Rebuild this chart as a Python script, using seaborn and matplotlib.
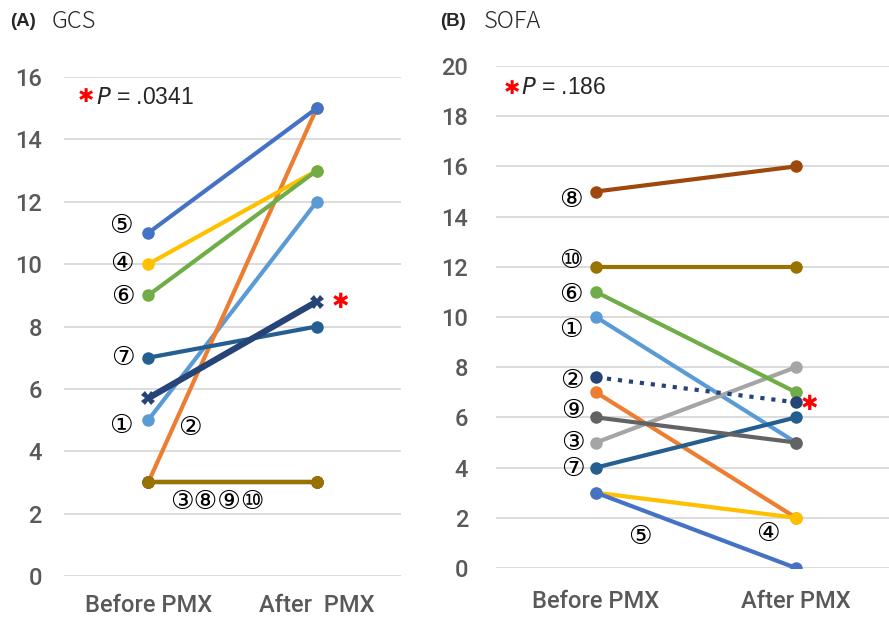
import matplotlib
matplotlib.use("Agg")
import matplotlib.pyplot as plt
import numpy as np
import pandas as pd
import seaborn as sns

sns.set_theme(style="white")
plt.rcParams['font.family'] = ['Liberation Sans', 'DejaVu Sans']

# categories
times = ["Before PMX", "After PMX"]
time_labels_a = ["Before PMX", "After  PMX"]
patients = ["①", "②", "③", "④", "⑤", "⑥", "⑦", "⑧", "⑨", "⑩"]
colors = ["#5B9BD5", "#ED7D31", "#A5A5A5", "#FFC000", "#4472C4",
          "#70AD47", "#255E91", "#9E480E", "#636363", "#997300"]
mean_color = "#264478"

# GCS values (before, after) per patient
gcs_before = [5, 3, 3, 10, 11, 9, 7, 3, 3, 3]
gcs_after = [12, 15, 3, 13, 15, 13, 8, 3, 3, 3]
gcs_mean = [5.7, 8.8]

# SOFA values
sofa_before = [10, 7, 5, 3, 3, 11, 4, 15, 6, 12]
sofa_after = [5, 2, 8, 2, 0, 7, 6, 16, 5, 12]
sofa_mean = [7.6, 6.6]

CIRC = ['DejaVu Sans']


def long_df(before, after):
    rows = []
    for p, b, a in zip(patients, before, after):
        rows.append((p, 0, b))
        rows.append((p, 1, a))
    return pd.DataFrame(rows, columns=["pid", "pos", "score"])


palette = dict(zip(patients, colors))
fig = plt.figure(figsize=(8.89, 6.21), dpi=100)
W, H = 889, 621


def px_axes(l, r, t, b):
    return fig.add_axes([l / W, 1 - b / H, (r - l) / W, (b - t) / H])


def style_axes(ax, ymax, labels, ypad, xpad):
    ax.set_ylim(0, ymax)
    ax.set_yticks(np.arange(0, ymax + 1, 2))
    ax.set_xticks([0, 1])
    ax.set_xticklabels(labels)
    ax.grid(axis="y", color="#D9D9D9", linewidth=1.3)
    ax.set_axisbelow(True)
    for s in ax.spines.values():
        s.set_visible(False)
    ax.tick_params(axis="y", length=0, pad=ypad, labelsize=17, labelcolor="#595959")
    ax.tick_params(axis="x", length=0, pad=xpad, labelsize=17, labelcolor="#595959")
    for t in ax.get_xticklabels() + ax.get_yticklabels():
        t.set_family(['Roboto', 'Liberation Sans', 'DejaVu Sans'])
        t.set_fontweight('medium')
    ax.set_xlabel("")
    ax.set_ylabel("")


def label(ax, text, x, y, dx, dy, size=19):
    ax.annotate(text, xy=(x, y), xytext=(dx, dy), textcoords="offset pixels",
                ha="center", va="center", fontsize=size, color="black",
                family=CIRC)


# ---- Panel A: GCS
axA = px_axes(64, 401, 77, 576)
dfA = long_df(gcs_before, gcs_after)
sns.lineplot(data=dfA, x="pos", y="score", hue="pid", palette=palette,
             hue_order=patients, marker="o", markersize=9, markeredgewidth=0,
             linewidth=3, legend=False, ax=axA, sort=False)
sns.lineplot(x=[0, 1], y=gcs_mean, color=mean_color, marker="X", markersize=10,
             markeredgewidth=0, linewidth=4.5, ax=axA)
axA.set_xlim(-0.5, 1.5)
style_axes(axA, 16, time_labels_a, 16, 13)

label(axA, "⑤", 0, gcs_before[4], -27, 7)
label(axA, "④", 0, gcs_before[3], -26, 0)
label(axA, "⑥", 0, gcs_before[5], -25, -2)
label(axA, "⑦", 0, gcs_before[6], -25, 0)
label(axA, "①", 0, gcs_before[0], -27, -6)
label(axA, "②", 0, gcs_before[1], 42, 54)
label(axA, "③⑧⑨⑩", 0, gcs_before[2], 69, -20)
axA.annotate("✱", xy=(1, gcs_mean[1]), xytext=(24, 0), textcoords="offset pixels",
             ha="center", va="center", fontsize=15, color="red",
             family=['DejaVu Sans'])

# ---- Panel B: SOFA
axB = px_axes(496, 889, 66, 568)
dfB = long_df(sofa_before, sofa_after)
sns.lineplot(data=dfB, x="pos", y="score", hue="pid", palette=palette,
             hue_order=patients, marker="o", markersize=9, markeredgewidth=0,
             linewidth=3, legend=False, ax=axB, sort=False)
sns.lineplot(x=[0, 1], y=sofa_mean, color=mean_color, marker="o", markersize=9,
             markeredgewidth=0, linewidth=3, linestyle=":", ax=axB)
axB.set_xlim(-0.5, 1.465)
style_axes(axB, 20, times, 20, 16)

label(axB, "⑧", 0, sofa_before[7], -25, -8)
label(axB, "⑩", 0, sofa_before[9], -25, 6)
label(axB, "⑥", 0, sofa_before[5], -25, -3)
label(axB, "①", 0, sofa_before[0], -25, -13)
label(axB, "②", 0, sofa_before[1], -24, 11)
label(axB, "⑨", 0, sofa_before[8], -23, 6)
label(axB, "③", 0, sofa_before[2], -23, 0)
label(axB, "⑦", 0, sofa_before[6], -23, -1)
label(axB, "⑤", 0, sofa_before[4], 44, -44)
label(axB, "④", 1, sofa_after[3], -28, -16)
axB.annotate("✱", xy=(1, sofa_mean[1]), xytext=(13, -2), textcoords="offset pixels",
             ha="center", va="center", fontsize=15, color="red",
             family=['DejaVu Sans'])

# ---- titles and P values
fig.text(10 / W, 1 - 22 / H, "(A)", fontsize=13.5, fontweight="bold", va="center")
fig.text(52 / W, 1 - 22 / H, "GCS", fontsize=17, va="center",
         family=['Noto Sans CJK JP', 'DejaVu Sans'], fontweight='light')
fig.text(440 / W, 1 - 22 / H, "(B)", fontsize=13.5, fontweight="bold", va="center")
fig.text(484 / W, 1 - 22 / H, "SOFA", fontsize=17, va="center",
         family=['Noto Sans CJK JP', 'DejaVu Sans'], fontweight='light')

fig.text(86 / W, 1 - 97 / H, "✱", fontsize=14, color="red", ha="center",
         va="center", family=['DejaVu Sans'])
fig.text(96 / W, 1 - 97 / H, r"$\it{P}$ = .0341", fontsize=16.5, va="center")
fig.text(512 / W, 1 - 88 / H, "✱", fontsize=14, color="red", ha="center",
         va="center", family=['DejaVu Sans'])
fig.text(521 / W, 1 - 88 / H, r"$\it{P}$ = .186", fontsize=16.5, va="center")

fig.savefig("out.png", dpi=100)
